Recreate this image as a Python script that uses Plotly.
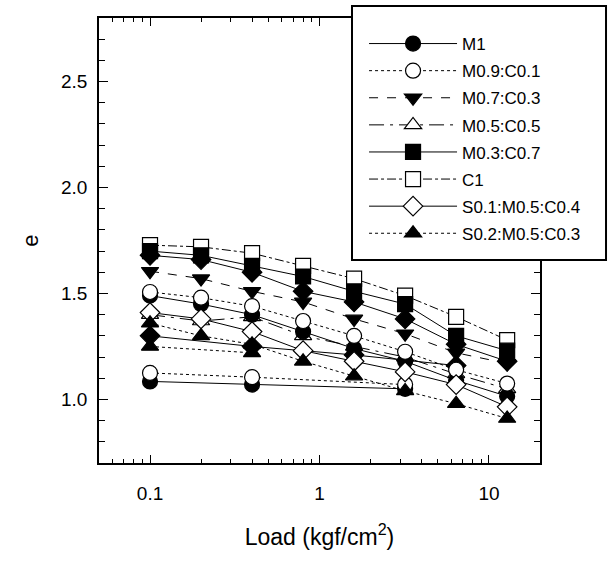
import numpy as np
import plotly.graph_objects as go

# Load steps (kgf/cm^2)
load = [0.1, 0.2, 0.4, 0.8, 1.6, 3.2, 6.4, 12.8]

# Void ratio e for each mixture
e_M1 = [1.49, 1.45, 1.40, 1.32, 1.24, 1.18, 1.09, 1.015]
e_M09C01 = [1.507, 1.48, 1.44, 1.37, 1.30, 1.225, 1.14, 1.075]
e_M07C03 = [1.605, 1.57, 1.51, 1.46, 1.38, 1.31, 1.22, 1.17]
e_M05C05 = [1.40, 1.37, 1.39, 1.30, 1.25, 1.20, 1.12, 1.05]
e_M03C07 = [1.70, 1.68, 1.63, 1.58, 1.51, 1.45, 1.30, 1.23]
e_C1 = [1.728, 1.72, 1.69, 1.63, 1.57, 1.49, 1.39, 1.28]
e_S01M05C04 = [1.41, 1.38, 1.32, 1.23, 1.18, 1.13, 1.07, 0.965]
e_S02M05C03 = [1.36, 1.30, 1.26, 1.18, 1.11, 1.04, 0.98, 0.91]

# Additional runs plotted without legend entries
load_lo = [0.1, 0.4, 3.2]
e_M09C01_lo = [1.125, 1.105, 1.07]
e_M1_lo = [1.085, 1.07, 1.05]
e_diam = [1.68, 1.66, 1.60, 1.51, 1.46, 1.38, 1.26, 1.18]
load_mid = [0.1, 0.4, 1.6, 6.4]
e_diam_lo = [1.30, 1.25, 1.21, 1.16]
load_tri = [0.1, 0.4]
e_tri_lo = [1.25, 1.22]

BLACK = "black"
WHITE = "white"
MS = 15

fig = go.Figure()


def add(x, y, name, symbol, fill, dash):
    fig.add_trace(go.Scatter(
        x=x, y=y, name=name, mode="lines+markers", showlegend=False,
        line=dict(color=BLACK, width=1, dash=dash),
        marker=dict(symbol=symbol, size=MS, color=fill,
                    line=dict(color=BLACK, width=1.2)),
    ))


add(load_lo, e_M1_lo, "M1 (2)", "circle", BLACK, "solid")
add(load_lo, e_M09C01_lo, "M0.9:C0.1 (2)", "circle", WHITE, "dot")
add(load_mid, e_diam_lo, "D2", "diamond", BLACK, "solid")
add(load_tri, e_tri_lo, "T2", "triangle-up", BLACK, "dot")
add(load, e_C1, "C1", "square", WHITE, "dashdot")
add(load, e_M03C07, "M0.3:C0.7", "square", BLACK, "solid")
add(load, e_diam, "D1", "diamond", BLACK, "solid")
add(load, e_M07C03, "M0.7:C0.3", "triangle-down", BLACK, "dash")
add(load, e_M05C05, "M0.5:C0.5", "triangle-up", WHITE, "longdashdot")
add(load, e_M1, "M1", "circle", BLACK, "solid")
add(load, e_M09C01, "M0.9:C0.1", "circle", WHITE, "dot")
add(load, e_S01M05C04, "S0.1:M0.5:C0.4", "diamond", WHITE, "solid")
add(load, e_S02M05C03, "S0.2:M0.5:C0.3", "triangle-up", BLACK, "dot")

# Legend entries in the usual order
legend_items = [
    ("M1", "circle", BLACK, "solid"),
    ("M0.9:C0.1", "circle", WHITE, "dot"),
    ("M0.7:C0.3", "triangle-down", BLACK, "dash"),
    ("M0.5:C0.5", "triangle-up", WHITE, "longdashdot"),
    ("M0.3:C0.7", "square", BLACK, "solid"),
    ("C1", "square", WHITE, "dashdot"),
    ("S0.1:M0.5:C0.4", "diamond", WHITE, "solid"),
    ("S0.2:M0.5:C0.3", "triangle-up", BLACK, "dot"),
]
for name, sym, fill, dash in legend_items:
    fig.add_trace(go.Scatter(
        x=[None], y=[None], name=name, legendgroup=name,
        mode="lines+markers",
        line=dict(color=BLACK, width=1, dash=dash),
        marker=dict(symbol=sym, size=MS, color=fill,
                    line=dict(color=BLACK, width=1.2)),
    ))

FONT = "Arial, Liberation Sans, sans-serif"
minor_x = [v * 10.0 ** k for k in (-2, -1, 0, 1) for v in range(2, 10)]
minor_x = [v for v in minor_x if 0.05 <= v <= 20]

# Framed box behind the legend entries
fig.add_shape(
    type="rect", xref="paper", yref="paper",
    x0=0.5737, x1=1.1497, y0=0.4562, y1=1.027,
    fillcolor="white", line=dict(color="black", width=2), layer="above",
)

fig.update_layout(
    width=608, height=561,
    margin=dict(l=99, r=68, t=18, b=98, autoexpand=False),
    paper_bgcolor="white", plot_bgcolor="white",
    font=dict(family=FONT, size=19, color="black"),
    legend=dict(
        x=0.601, y=0.982, xanchor="left", yanchor="top",
        bgcolor="rgba(0,0,0,0)", borderwidth=0,
        font=dict(size=17), itemwidth=88, tracegroupgap=2,
    ),
)
fig.update_xaxes(
    type="log", range=[np.log10(0.05), np.log10(20)],
    tickvals=[0.1, 1, 10], ticktext=["0.1", "1", "10"],
    ticks="inside", ticklen=8, tickwidth=1, tickcolor="black",
    ticklabelstandoff=12,
    showline=True, linecolor="black", linewidth=1.5, mirror="ticks",
    showgrid=False, zeroline=False,
    minor=dict(tickvals=minor_x, ticks="inside", ticklen=4,
               tickcolor="black", showgrid=False),
    title=dict(text="Load (kgf/cm<sup>2</sup>)", font=dict(size=23), standoff=26),
)
fig.update_yaxes(
    range=[0.7, 2.8], tick0=1.0, dtick=0.5, tickformat=".1f",
    ticks="inside", ticklen=9, tickwidth=1, tickcolor="black",
    ticklabelstandoff=6,
    showline=True, linecolor="black", linewidth=1.5, mirror="ticks",
    showgrid=False, zeroline=False,
    minor=dict(dtick=0.1, ticks="inside", ticklen=6, tickcolor="black",
               showgrid=False),
    title=dict(text="e", font=dict(size=22), standoff=16),
)

fig.write_html("out.html")
